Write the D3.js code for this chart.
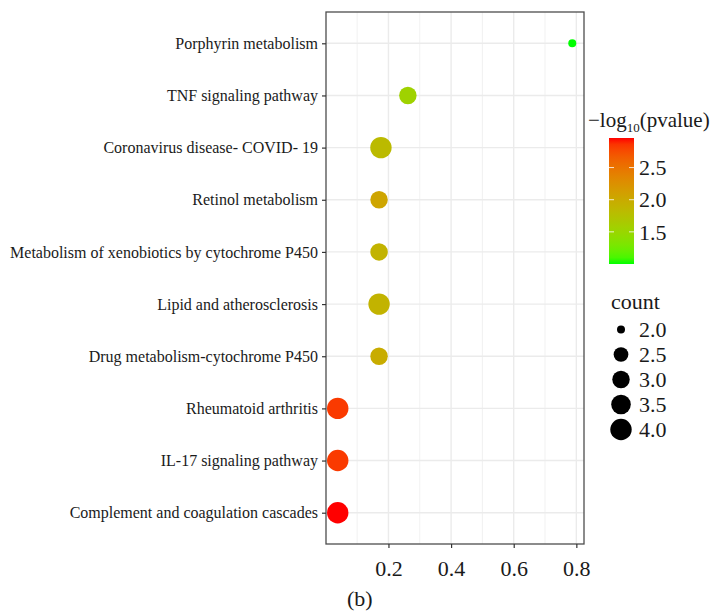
<!DOCTYPE html>
<html>
<head>
<meta charset="utf-8">
<script src="https://cdn.jsdelivr.net/npm/d3@7"></script>
<style>
  html, body { margin: 0; padding: 0; background: #fff; }
  svg { display: block; font-family: "Liberation Serif", "Times New Roman", serif; }
</style>
</head>
<body>
<svg id="chart" width="713" height="616"></svg>
<script>
// KEGG pathway enrichment: one bubble per pathway
const pathways = [
  "Porphyrin metabolism",
  "TNF signaling pathway",
  "Coronavirus disease- COVID- 19",
  "Retinol metabolism",
  "Metabolism of xenobiotics by cytochrome P450",
  "Lipid and atherosclerosis",
  "Drug metabolism-cytochrome P450",
  "Rheumatoid arthritis",
  "IL-17 signaling pathway",
  "Complement and coagulation cascades"
];
const richFactor = [0.787, 0.262, 0.176, 0.170, 0.170, 0.170, 0.170, 0.038, 0.038, 0.038];
const geneCount  = [2, 3, 4, 3, 3, 4, 3, 4, 4, 4];
const negLogP    = [1.0, 1.55, 1.82, 2.05, 1.9, 1.9, 1.98, 2.84, 2.84, 2.96];

const xTicks = [0.2, 0.4, 0.6, 0.8];
const colorTicks = [1.5, 2.0, 2.5];
const sizeTicks = [2.0, 2.5, 3.0, 3.5, 4.0];

const rows = pathways.map((p, i) => ({
  pathway: p, rich: richFactor[i], count: geneCount[i], lp: negLogP[i]
}));

const svg = d3.select("#chart");
const panel = { left: 326, right: 584, top: 12, bottom: 544 };

// x with 5% expansion on each side
const [xmin, xmax] = d3.extent(richFactor);
const pad = (xmax - xmin) * 0.05;
const x = d3.scaleLinear().domain([xmin - pad, xmax + pad]).range([panel.left, panel.right]);

const y = d3.scalePoint().domain(pathways).range([panel.top, panel.bottom]).padding(0.6);

const lpExtent = d3.extent(negLogP);
const color = d3.scaleLinear().domain(lpExtent).range(["#00ff00", "#ff0000"]).interpolate(d3.interpolateLab);

// area-proportional size: radius grows with sqrt of rescaled count
const countExtent = d3.extent(geneCount);
const sizeUnit = d3.scaleLinear().domain(countExtent).range([0, 1]).clamp(true);
const radiusScale = d3.scaleLinear().domain([0, 1]).range([4, 10.7]);
const radius = c => radiusScale(Math.sqrt(sizeUnit(c)));

// grid
const minorTicks = d3.range(0.1, 0.8, 0.2);
svg.append("g").selectAll("line").data(minorTicks).join("line")
  .attr("x1", d => x(d)).attr("x2", d => x(d))
  .attr("y1", panel.top).attr("y2", panel.bottom)
  .attr("stroke", "#ebebeb").attr("stroke-width", 0.7);
svg.append("g").selectAll("line").data(xTicks).join("line")
  .attr("x1", d => x(d)).attr("x2", d => x(d))
  .attr("y1", panel.top).attr("y2", panel.bottom)
  .attr("stroke", "#ebebeb").attr("stroke-width", 1.4);
svg.append("g").selectAll("line").data(pathways).join("line")
  .attr("x1", panel.left).attr("x2", panel.right)
  .attr("y1", d => y(d)).attr("y2", d => y(d))
  .attr("stroke", "#ebebeb").attr("stroke-width", 1.4);

// points
svg.append("g").selectAll("circle").data(rows).join("circle")
  .attr("cx", d => x(d.rich))
  .attr("cy", d => y(d.pathway))
  .attr("r", d => radius(d.count))
  .attr("fill", d => color(d.lp));

// panel border
svg.append("rect")
  .attr("x", panel.left).attr("y", panel.top)
  .attr("width", panel.right - panel.left).attr("height", panel.bottom - panel.top)
  .attr("fill", "none").attr("stroke", "#4d4d4d").attr("stroke-width", 1.3);

// axes
const xAxis = svg.append("g").attr("transform", `translate(0,${panel.bottom})`)
  .call(d3.axisBottom(x).tickValues(xTicks).tickFormat(d3.format(".1f")).tickSizeInner(4).tickSizeOuter(0).tickPadding(12));
xAxis.select(".domain").remove();
xAxis.selectAll("line").attr("stroke", "#333").attr("stroke-width", 1.2);
xAxis.selectAll("text").attr("font-size", 22).attr("fill", "#1a1a1a").attr("font-family", "Liberation Serif, Times New Roman, serif");

const yAxis = svg.append("g").attr("transform", `translate(${panel.left},0)`)
  .call(d3.axisLeft(y).tickSizeInner(4).tickSizeOuter(0).tickPadding(4));
yAxis.select(".domain").remove();
yAxis.selectAll("line").attr("stroke", "#333").attr("stroke-width", 1.2);
yAxis.selectAll("text").attr("font-size", 16).attr("fill", "#1a1a1a").attr("font-family", "Liberation Serif, Times New Roman, serif");

// axis title
svg.append("text").attr("x", 347).attr("y", 606)
  .attr("font-size", 22).attr("fill", "#1a1a1a").text("(b)");

// colour legend
const cb = { x: 609, w: 25, top: 138, bottom: 264 };
const cy = d3.scaleLinear().domain(lpExtent).range([cb.bottom, cb.top]);
const defs = svg.append("defs");
const grad = defs.append("linearGradient").attr("id", "lpGrad")
  .attr("x1", 0).attr("y1", 1).attr("x2", 0).attr("y2", 0);
d3.range(0, 1.0001, 0.05).forEach(t => {
  grad.append("stop").attr("offset", t)
    .attr("stop-color", color(lpExtent[0] + t * (lpExtent[1] - lpExtent[0])));
});
const title = svg.append("text").attr("x", 588).attr("y", 127).attr("font-size", 21).attr("fill", "#1a1a1a");
title.append("tspan").text("\u2212log");
title.append("tspan").attr("font-size", 13).attr("dy", 5).text("10");
title.append("tspan").attr("dy", -5).text("(pvalue)");

svg.append("rect").attr("x", cb.x).attr("y", cb.top)
  .attr("width", cb.w).attr("height", cb.bottom - cb.top).attr("fill", "url(#lpGrad)");
const cbTicks = svg.append("g");
cbTicks.selectAll("line.l").data(colorTicks).join("line").attr("class", "l")
  .attr("x1", cb.x).attr("x2", cb.x + 5).attr("y1", d => cy(d)).attr("y2", d => cy(d))
  .attr("stroke", "#fff").attr("stroke-opacity", 0.8).attr("stroke-width", 1);
cbTicks.selectAll("line.r").data(colorTicks).join("line").attr("class", "r")
  .attr("x1", cb.x + cb.w - 5).attr("x2", cb.x + cb.w).attr("y1", d => cy(d)).attr("y2", d => cy(d))
  .attr("stroke", "#fff").attr("stroke-opacity", 0.8).attr("stroke-width", 1);
cbTicks.selectAll("text").data(colorTicks).join("text")
  .attr("x", 639).attr("y", d => cy(d)).attr("dy", "0.35em")
  .attr("font-size", 22).attr("fill", "#1a1a1a").text(d => d3.format(".1f")(d));

// size legend
svg.append("text").attr("x", 611).attr("y", 309).attr("font-size", 22).attr("fill", "#1a1a1a").text("count");
const sizeKey = svg.append("g");
sizeKey.selectAll("circle").data(sizeTicks).join("circle")
  .attr("cx", 621).attr("cy", (d, i) => 329.5 + i * 25)
  .attr("r", d => radius(d)).attr("fill", "#000");
sizeKey.selectAll("text").data(sizeTicks).join("text")
  .attr("x", 639).attr("y", (d, i) => 329.5 + i * 25).attr("dy", "0.35em")
  .attr("font-size", 22).attr("fill", "#1a1a1a").text(d => d3.format(".1f")(d));
</script>
</body>
</html>
